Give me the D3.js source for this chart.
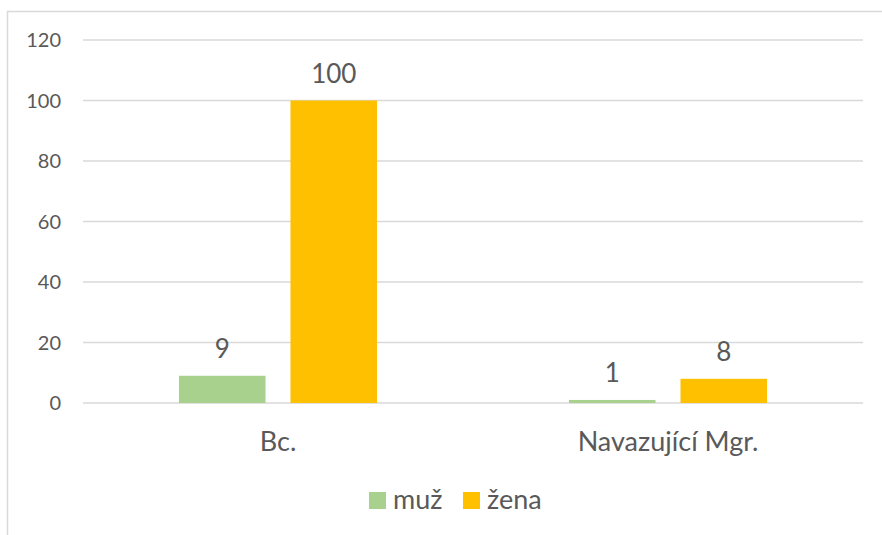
<!DOCTYPE html>
<html>
<head>
<meta charset="utf-8">
<script src="https://cdn.jsdelivr.net/npm/d3@7"></script>
<style>
  body { margin: 0; background: #fff; }
  text { font-family: Lato, "Open Sans", sans-serif; fill: #595959; }
</style>
</head>
<body>
<div id="chart"></div>
<script>
// data
var categories = ["Bc.", "Navazující Mgr."];
var seriesNames = ["muž", "žena"];
var seriesColors = ["#a9d18e", "#ffc000"];
var muzValues = [9, 1];
var zenaValues = [100, 8];
var yTicks = [0, 20, 40, 60, 80, 100, 120];

var width = 882, height = 535;
var svg = d3.select("#chart").append("svg")
    .attr("width", width)
    .attr("height", height);

// chart frame
svg.append("rect")
    .attr("x", 7.5).attr("y", 11.5)
    .attr("width", 900).attr("height", 600)
    .attr("fill", "none")
    .attr("stroke", "#d9d9d9")
    .attr("stroke-width", 1.5);

var x0 = d3.scaleBand()
    .domain(categories)
    .range([83, 863])
    .paddingInner(0.492)
    .paddingOuter(0.246);

var x1 = d3.scaleBand()
    .domain(seriesNames)
    .range([0, x0.bandwidth()])
    .paddingInner(0.224);

var y = d3.scaleLinear()
    .domain([0, 120])
    .range([403, 40]);

/***** gridlines and y labels *****/
svg.append("g").selectAll("line")
    .data(yTicks)
    .enter().append("line")
    .attr("x1", 83).attr("x2", 863)
    .attr("y1", function(d) { return y(d); })
    .attr("y2", function(d) { return y(d); })
    .attr("stroke", "#d9d9d9")
    .attr("stroke-width", 1.5);

svg.append("g").selectAll("text")
    .data(yTicks)
    .enter().append("text")
    .attr("x", 61)
    .attr("y", function(d) { return y(d); })
    .attr("dy", "0.35em")
    .attr("text-anchor", "end")
    .style("font-size", "20px")
    .text(function(d) { return d; });

/***** bars *****/
var rows = categories.map(function(c, i) {
    return {cat: c, values: [muzValues[i], zenaValues[i]]};
});

var groups = svg.append("g").selectAll("g")
    .data(rows)
    .enter().append("g")
    .attr("transform", function(d) { return "translate(" + x0(d.cat) + ",0)"; });

var cells = groups.selectAll("g")
    .data(function(d) { return d.values.map(function(v, j) { return {name: seriesNames[j], value: v, color: seriesColors[j]}; }); })
    .enter().append("g");

cells.append("rect")
    .attr("x", function(d) { return x1(d.name); })
    .attr("width", x1.bandwidth())
    .attr("y", function(d) { return y(d.value); })
    .attr("height", function(d) { return y(0) - y(d.value); })
    .attr("fill", function(d) { return d.color; });

cells.append("text")
    .attr("x", function(d) { return x1(d.name) + x1.bandwidth() / 2; })
    .attr("y", function(d) { return y(d.value) - 18; })
    .attr("text-anchor", "middle")
    .style("font-size", "26px")
    .text(function(d) { return d.value; });

/***** category labels *****/
svg.append("g").selectAll("text")
    .data(categories)
    .enter().append("text")
    .attr("x", function(d) { return x0(d) + x0.bandwidth() / 2; })
    .attr("y", 451)
    .attr("text-anchor", "middle")
    .style("font-size", "27px")
    .text(function(d) { return d; });

/***** legend *****/
var legendX = [369, 463];
var legend = svg.append("g").selectAll("g")
    .data(seriesNames)
    .enter().append("g")
    .attr("transform", function(d, i) { return "translate(" + legendX[i] + ",492)"; });

legend.append("rect")
    .attr("width", 17).attr("height", 17)
    .attr("fill", function(d, i) { return seriesColors[i]; });

legend.append("text")
    .attr("x", 24)
    .attr("y", 17)
    .style("font-size", "27px")
    .text(function(d) { return d; });
</script>
</body>
</html>
